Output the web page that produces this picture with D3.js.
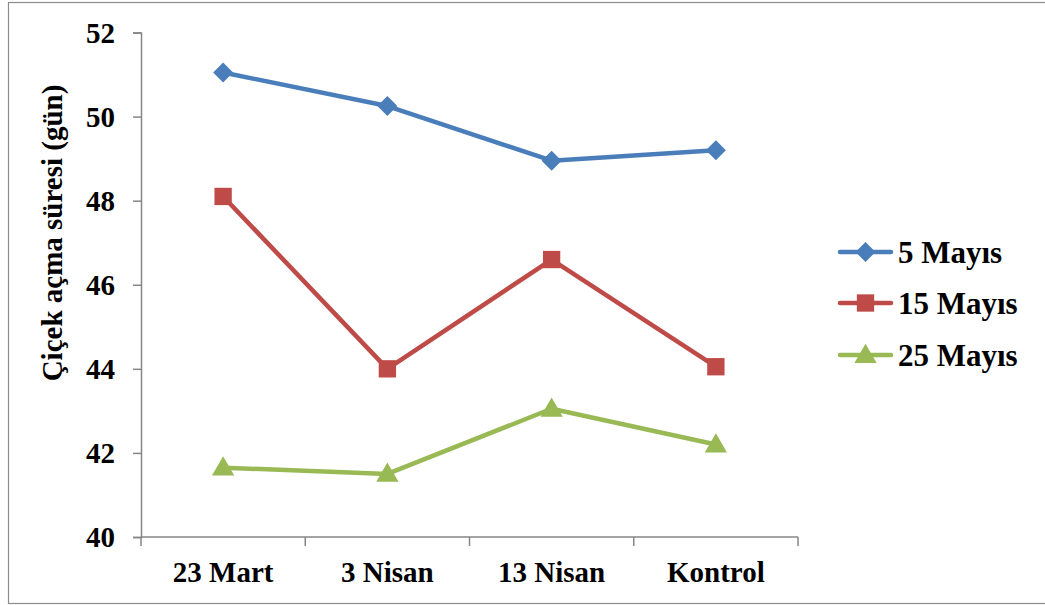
<!DOCTYPE html>
<html>
<head>
<meta charset="utf-8">
<script src="https://cdn.jsdelivr.net/npm/d3@7"></script>
<style>
  html, body { margin: 0; padding: 0; background: #fff; }
  svg { display: block; }
  text { font-family: "Liberation Serif", "Times New Roman", serif; font-weight: bold; fill: #000; }
</style>
</head>
<body>
<svg id="chart" width="1045" height="605"></svg>
<script>
// Flowering duration (days) per planting date
const categories = ["23 Mart", "3 Nisan", "13 Nisan", "Kontrol"];
const seriesNames = ["5 Mayıs", "15 Mayıs", "25 Mayıs"];
const may5  = [51.05, 50.25, 48.95, 49.2];
const may15 = [48.1, 44.0, 46.6, 44.05];
const may25 = [41.65, 41.5, 43.05, 42.2];
const yTicks = [40, 42, 44, 46, 48, 50, 52];
const yTitle = "Çiçek açma süresi (gün)";

const colors = ["#4A7EBB", "#BE4B48", "#98B954"];
const seriesValues = [may5, may15, may25];

// marker shapes: diamond (rotated square), square, triangle
const markerPaths = [
  d3.symbol().type(d3.symbolSquare).size(200)(),
  d3.symbol().type(d3.symbolSquare).size(300)(),
  d3.symbol().type(d3.symbolTriangle).size(215)()
];
const markerRotate = [45, 0, 0];
const markerDy = [0, 0, 1.5];

const svg = d3.select("#chart");

// outer frame
svg.append("rect")
  .attr("x", 8.5).attr("y", 2.5)
  .attr("width", 1060).attr("height", 601)
  .attr("fill", "none").attr("stroke", "#8c8c8c").attr("stroke-width", 1.2);

const plot = { left: 141, right: 798, top: 32.5, bottom: 537 };

const x = d3.scaleBand().domain(categories).range([plot.left, plot.right]);
const y = d3.scaleLinear().domain([40, 52]).range([plot.bottom, plot.top]);
const cx = c => x(c) + x.bandwidth() / 2;

// y axis
const yAxis = svg.append("g")
  .attr("transform", `translate(${plot.left},0)`)
  .call(d3.axisLeft(y).tickValues(yTicks).tickSize(8).tickPadding(18).tickFormat(d3.format("d")));
yAxis.select(".domain").attr("stroke", "#868686").attr("stroke-width", 1.5);
yAxis.selectAll(".tick line").attr("stroke", "#868686").attr("stroke-width", 1.5);
yAxis.selectAll(".tick text").style("font-size", "29px").attr("dy", "0.34em");

// x axis: tick marks at category boundaries
const boundaries = d3.range(categories.length + 1).map(i => plot.left + i * x.step());
svg.append("line")
  .attr("x1", plot.left).attr("x2", plot.right)
  .attr("y1", plot.bottom).attr("y2", plot.bottom)
  .attr("stroke", "#868686").attr("stroke-width", 1.5);
svg.append("g").selectAll("line").data(boundaries).join("line")
  .attr("x1", d => d).attr("x2", d => d)
  .attr("y1", plot.bottom).attr("y2", plot.bottom + 9)
  .attr("stroke", "#868686").attr("stroke-width", 1.5);
svg.append("g").selectAll("text").data(categories).join("text")
  .attr("x", d => cx(d))
  .attr("y", 582)
  .attr("text-anchor", "middle")
  .style("font-size", "29px")
  .text(d => d);

// y axis title
svg.append("text")
  .attr("transform", "translate(62,233) rotate(-90)")
  .attr("text-anchor", "middle")
  .style("font-size", "29px")
  .text(yTitle);

// series lines and markers
const line = d3.line()
  .x((d, i) => cx(categories[i]))
  .y(d => y(d));

seriesValues.forEach((vals, s) => {
  svg.append("path")
    .datum(vals)
    .attr("d", line)
    .attr("fill", "none")
    .attr("stroke", colors[s])
    .attr("stroke-width", 4.5)
    .attr("stroke-linejoin", "round");
  svg.append("g").selectAll("path").data(vals).join("path")
    .attr("transform", (d, i) => `translate(${cx(categories[i])},${y(d) + markerDy[s]}) rotate(${markerRotate[s]})`)
    .attr("d", markerPaths[s])
    .attr("fill", colors[s]);
});

// legend
const legendRows = [252, 303, 355];
seriesNames.forEach((name, s) => {
  const g = svg.append("g").attr("transform", `translate(0,${legendRows[s]})`);
  g.append("line")
    .attr("x1", 840).attr("x2", 891).attr("y1", 0).attr("y2", 0)
    .attr("stroke", colors[s]).attr("stroke-width", 4.5).attr("stroke-linecap", "round");
  g.append("path")
    .attr("transform", `translate(865.5,${markerDy[s]}) rotate(${markerRotate[s]})`)
    .attr("d", markerPaths[s])
    .attr("fill", colors[s]);
  g.append("text")
    .attr("x", 898).attr("y", 11)
    .style("font-size", "31px")
    .text(name);
});
</script>
</body>
</html>
